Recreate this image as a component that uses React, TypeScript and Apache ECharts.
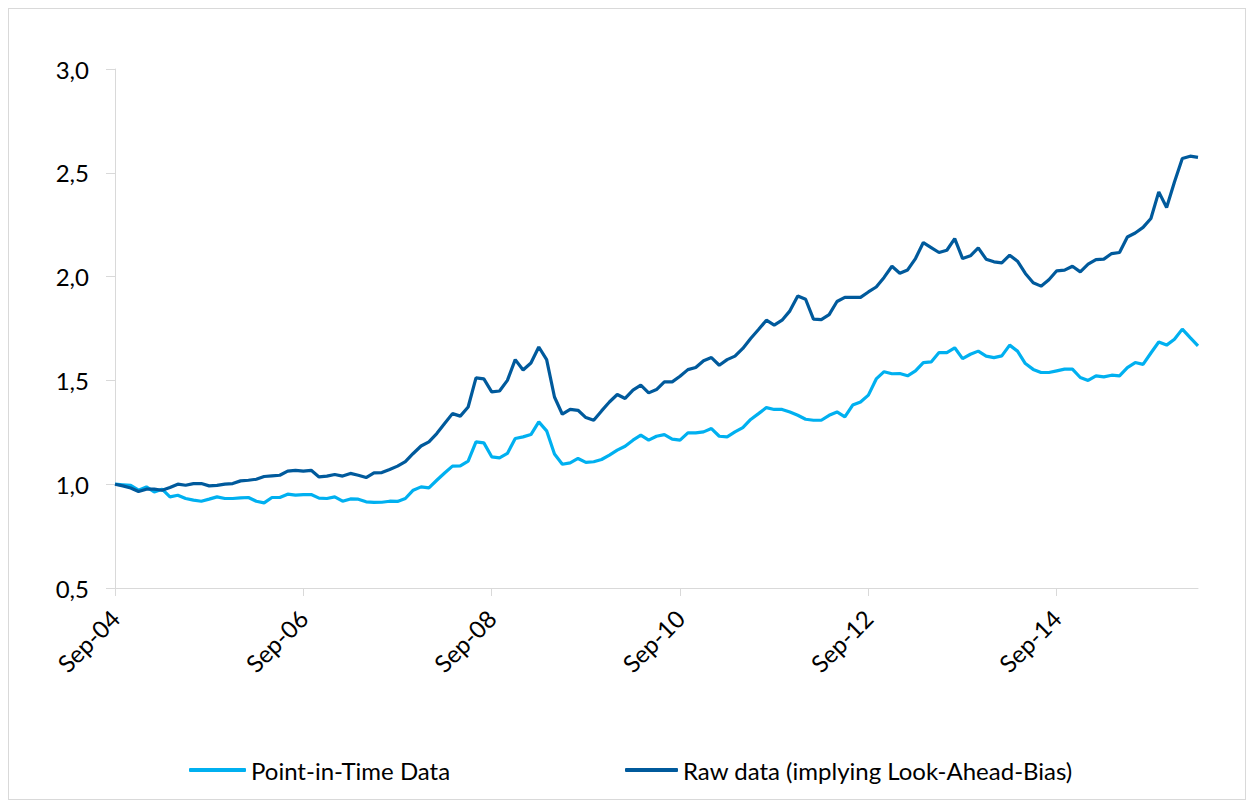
import React, { useEffect, useRef } from "react";
import * as echarts from "echarts";

const MONTHS = ["Jan", "Feb", "Mar", "Apr", "May", "Jun", "Jul", "Aug", "Sep", "Oct", "Nov", "Dec"];
const START_YEAR = 2004;
const START_MONTH = 8; // September
const POINT_COUNT = 139;

const categories: string[] = [];
for (let k = 0; k < POINT_COUNT; k++) {
  const m = START_MONTH + k;
  const y = START_YEAR + Math.floor(m / 12);
  categories.push(MONTHS[m % 12] + "-" + String(y % 100).padStart(2, "0"));
}

const pointInTime = [
  1.0, 0.997, 0.994, 0.971, 0.987, 0.963, 0.976, 0.939, 0.947, 0.931,
  0.923, 0.918, 0.928, 0.939, 0.931, 0.931, 0.934, 0.936, 0.918, 0.91,
  0.936, 0.936, 0.952, 0.947, 0.95, 0.95, 0.933, 0.931, 0.939, 0.918,
  0.929, 0.928, 0.915, 0.912, 0.913, 0.918, 0.917, 0.931, 0.971, 0.987,
  0.982, 1.019, 1.054, 1.087, 1.088, 1.111, 1.204, 1.199, 1.132, 1.127,
  1.148, 1.22, 1.228, 1.239, 1.3, 1.257, 1.145, 1.096, 1.103, 1.124,
  1.105, 1.108, 1.119, 1.14, 1.164, 1.183, 1.212, 1.236, 1.212, 1.231,
  1.239, 1.217, 1.212, 1.247, 1.247, 1.252, 1.268, 1.231, 1.228, 1.252,
  1.273, 1.312, 1.34, 1.369, 1.36, 1.36, 1.348, 1.332, 1.313, 1.308,
  1.308, 1.332, 1.348, 1.324, 1.381, 1.396, 1.429, 1.507, 1.542, 1.532,
  1.533, 1.522, 1.546, 1.586, 1.589, 1.634, 1.634, 1.657, 1.605, 1.626,
  1.641, 1.617, 1.61, 1.618, 1.67, 1.641, 1.581, 1.553, 1.538, 1.538,
  1.546, 1.554, 1.554, 1.514, 1.5, 1.522, 1.517, 1.525, 1.522, 1.562,
  1.586, 1.577, 1.632, 1.685, 1.67, 1.698, 1.747, 1.706, 1.666,
];

const rawData = [
  1.0, 0.992, 0.982, 0.965, 0.976, 0.976, 0.971, 0.984, 1.0, 0.995,
  1.003, 1.003, 0.992, 0.994, 1.0, 1.003, 1.016, 1.019, 1.024, 1.037,
  1.04, 1.043, 1.063, 1.067, 1.063, 1.067, 1.035, 1.039, 1.047, 1.039,
  1.052, 1.043, 1.032, 1.055, 1.056, 1.071, 1.087, 1.109, 1.148, 1.184,
  1.204, 1.244, 1.292, 1.34, 1.328, 1.372, 1.512, 1.507, 1.445, 1.449,
  1.5, 1.6, 1.55, 1.584, 1.661, 1.6, 1.42, 1.337, 1.36, 1.356,
  1.321, 1.308, 1.353, 1.396, 1.432, 1.413, 1.453, 1.477, 1.44, 1.456,
  1.493, 1.493, 1.52, 1.552, 1.562, 1.595, 1.61, 1.573, 1.6, 1.617,
  1.654, 1.702, 1.745, 1.79, 1.766, 1.79, 1.835, 1.907, 1.891, 1.795,
  1.793, 1.817, 1.88, 1.9, 1.9, 1.9, 1.926, 1.95, 1.996, 2.05,
  2.016, 2.032, 2.087, 2.164, 2.14, 2.116, 2.127, 2.183, 2.087, 2.1,
  2.138, 2.084, 2.071, 2.066, 2.103, 2.074, 2.015, 1.97, 1.954, 1.985,
  2.028, 2.031, 2.05, 2.023, 2.06, 2.082, 2.084, 2.111, 2.116, 2.191,
  2.21, 2.237, 2.28, 2.408, 2.333, 2.456, 2.569, 2.58, 2.574,
];

const SERIES_NAMES = ["Point-in-Time Data", "Raw data (implying Look-Ahead-Bias)"];
const COLORS = ["#00B0F0", "#005A9C"];
const FONT = "Lato";

export default function App() {
  const ref = useRef<HTMLDivElement>(null);

  useEffect(() => {
    if (!ref.current) return;
    const chart = echarts.init(ref.current, undefined, { renderer: "svg" });
    chart.setOption({
      animation: false,
      backgroundColor: "#ffffff",
      textStyle: { fontFamily: FONT },
      grid: { left: 106, top: 60, right: 47, bottom: 211, containLabel: false },
      legend: [
        {
          data: [{ name: SERIES_NAMES[0], icon: "roundRect" }],
          left: 175,
          top: 744,
          itemWidth: 57,
          itemHeight: 4,
          itemStyle: { borderWidth: 0 },
          textStyle: { fontFamily: FONT, fontSize: 24, color: "#000" },
        },
        {
          data: [{ name: SERIES_NAMES[1], icon: "roundRect" }],
          left: 611,
          top: 744,
          itemWidth: 53,
          itemHeight: 4,
          itemStyle: { borderWidth: 0 },
          textStyle: { fontFamily: FONT, fontSize: 24, color: "#000" },
        },
      ],
      xAxis: {
        type: "category",
        data: categories,
        boundaryGap: false,
        axisLine: { show: true, lineStyle: { color: "#d9d9d9", width: 1 } },
        axisTick: { show: true, interval: 23, length: 8, lineStyle: { color: "#d9d9d9" } },
        axisLabel: {
          interval: 23,
          rotate: 45,
          margin: 26,
          fontFamily: FONT,
          fontSize: 24,
          color: "#000",
        },
        splitLine: { show: false },
      },
      yAxis: {
        type: "value",
        min: 0.5,
        max: 3.0,
        interval: 0.5,
        axisLine: { show: true, lineStyle: { color: "#d9d9d9", width: 1 } },
        axisTick: { show: true, length: 9, lineStyle: { color: "#d9d9d9" } },
        axisLabel: {
          margin: 26,
          fontFamily: FONT,
          fontSize: 24,
          color: "#000",
          formatter: (v: number) => v.toFixed(1).replace(".", ","),
        },
        splitLine: { show: false },
      },
      series: [
        {
          name: SERIES_NAMES[0],
          type: "line",
          data: pointInTime,
          symbol: "none",
          lineStyle: { color: COLORS[0], width: 3.2 },
          itemStyle: { color: COLORS[0] },
        },
        {
          name: SERIES_NAMES[1],
          type: "line",
          data: rawData,
          symbol: "none",
          lineStyle: { color: COLORS[1], width: 3.2 },
          itemStyle: { color: COLORS[1] },
        },
      ],
    });
    return () => chart.dispose();
  }, []);

  return (
    <div
      ref={ref}
      style={{ width: 1236, height: 790, border: "1px solid #d9d9d9" }}
    />
  );
}
